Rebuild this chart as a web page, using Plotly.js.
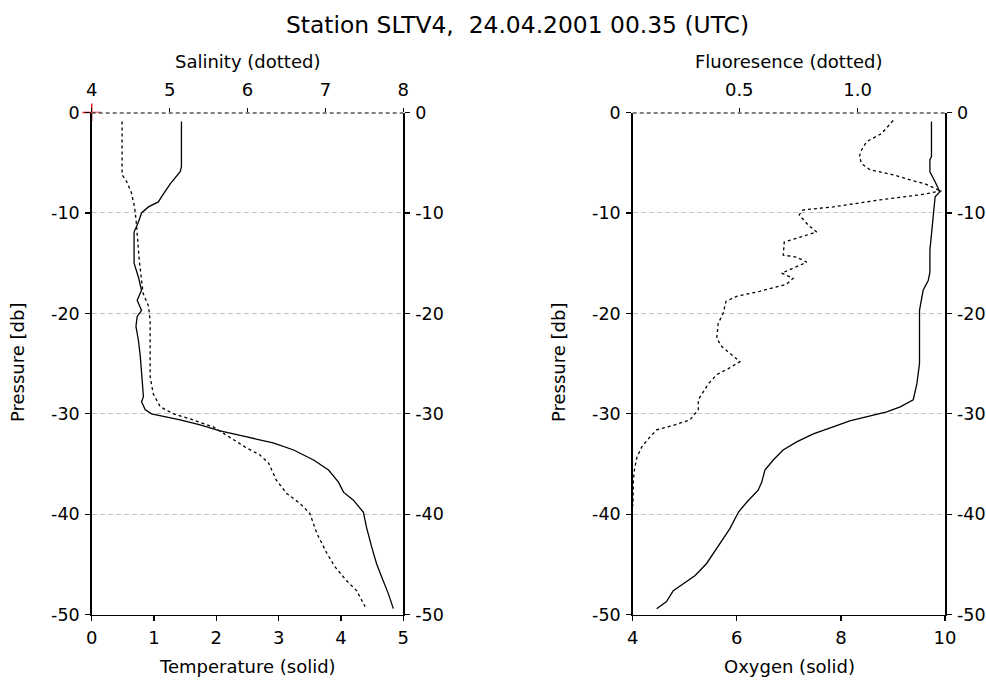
<!DOCTYPE html>
<html>
<head>
<meta charset="utf-8">
<script src="https://cdn.plot.ly/plotly-3.0.1.min.js"></script>
<style>html,body{margin:0;padding:0;background:#fff;}#chart{width:986px;height:682px;}</style>
</head>
<body>
<div id="chart"></div>
<script>
// ---- Left panel: temperature (solid) ----
const tempPressure = [-0.9,-5.4,-5.9,-7.1,-8.4,-8.9,-9.4,-10.0,-10.9,-11.9,-15.0,-16.4,-17.7,-18.7,-19.7,-20.3,-21.3,-22.7,-24.3,-26.0,-28.3,-28.8,-29.6,-30.0,-30.6,-31.1,-31.7,-32.3,-32.9,-33.6,-34.6,-35.6,-36.8,-37.8,-38.6,-39.8,-41.3,-43.2,-44.9,-46.2,-47.9,-49.4];
const temperature = [1.44,1.44,1.42,1.26,1.12,1.07,0.91,0.80,0.75,0.68,0.68,0.75,0.80,0.73,0.80,0.73,0.71,0.75,0.78,0.80,0.83,0.80,0.86,0.96,1.42,1.74,2.06,2.49,2.91,3.24,3.56,3.80,3.96,4.04,4.20,4.36,4.41,4.49,4.57,4.65,4.76,4.84];

// ---- Left panel: salinity (dotted) ----
const salPressure = [-0.9,-6.2,-6.9,-8.0,-9.4,-10.7,-12.7,-14.7,-16.7,-18.0,-19.3,-20.7,-24.3,-26.3,-28.0,-29.3,-30.0,-30.5,-31.3,-32.1,-33.4,-34.1,-34.9,-36.6,-37.9,-38.9,-39.9,-41.9,-43.9,-45.2,-46.6,-47.6,-49.2];
const salinity = [4.39,4.39,4.45,4.51,4.55,4.57,4.59,4.61,4.64,4.66,4.73,4.75,4.75,4.75,4.79,4.88,5.05,5.26,5.56,5.73,5.99,6.16,6.27,6.37,6.50,6.67,6.80,6.89,7.02,7.12,7.27,7.40,7.51];

// ---- Right panel: oxygen (solid) ----
const oxyPressure = [-0.9,-4.4,-4.7,-5.9,-6.9,-7.7,-7.9,-8.4,-10.0,-11.4,-13.7,-15.9,-16.7,-17.7,-18.7,-19.7,-25.0,-27.0,-28.6,-29.3,-29.8,-30.3,-30.7,-31.3,-32.0,-32.8,-33.6,-34.6,-35.6,-36.8,-37.6,-38.8,-39.8,-41.4,-42.6,-43.7,-44.9,-46.1,-46.9,-47.6,-48.7,-49.4];
const oxygen = [9.74,9.74,9.71,9.71,9.81,9.87,9.90,9.81,9.78,9.74,9.71,9.71,9.68,9.58,9.55,9.51,9.51,9.46,9.39,9.14,8.88,8.50,8.17,7.85,7.47,7.15,6.89,6.70,6.54,6.48,6.41,6.19,6.03,5.87,5.71,5.58,5.42,5.20,4.97,4.78,4.65,4.46];

// ---- Right panel: fluorescence (dotted) ----
const fluoPressure = [-0.8,-2.1,-2.9,-3.7,-4.4,-5.1,-5.7,-6.2,-6.7,-7.1,-7.7,-7.8,-8.2,-8.7,-9.4,-9.7,-10.2,-11.2,-11.9,-12.4,-12.9,-14.2,-14.4,-14.9,-15.5,-16.0,-16.5,-17.1,-17.8,-18.3,-18.8,-20.0,-21.0,-22.5,-23.3,-24.2,-24.8,-25.5,-26.1,-27.0,-27.8,-28.6,-29.6,-30.6,-31.2,-31.6,-32.3,-33.3,-34.4,-35.6,-36.6,-38.0,-39.1,-39.5,-45.5,-45.8,-46.1,-50.0];
const fluorescence = [1.150,1.101,1.038,1.017,1.007,1.017,1.052,1.150,1.221,1.284,1.340,1.355,1.263,1.094,0.897,0.770,0.753,0.791,0.827,0.756,0.690,0.686,0.742,0.785,0.728,0.679,0.728,0.700,0.587,0.489,0.444,0.432,0.411,0.405,0.426,0.475,0.503,0.454,0.405,0.370,0.348,0.327,0.327,0.292,0.215,0.151,0.123,0.088,0.067,0.057,0.053,0.052,0.051,0.040,0.040,0.053,0.040,0.040];

// ---- Origin marker ----
const originTemp = [0];
const originPressure = [0];

// ---- Tick labels ----
const pressureTicks = [0,-10,-20,-30,-40,-50];
const pressureTickText = ['0','-10','-20','-30','-40','-50'];
const tempTicks = [0,1,2,3,4,5];
const salTicks = [4,5,6,7,8];
const oxyTicks = [4,6,8,10];
const fluoTicks = [0.5,1.0];
const fluoTickText = ['0.5','1.0'];

const FONT = 'DejaVu Sans, Arial, sans-serif';
const W = 986, H = 682;
const px = v => v / W;
const pyp = v => 1 - v / H;

const leftDom = [px(91.7), px(403.3)];
const rightDom = [px(632.7), px(945)];
const yDom = [pyp(614.7), pyp(112.5)];

const solid = {color: '#000', width: 1.3};
const dotted = {color: '#000', width: 1.3, dash: '3px,3px'};
const hidden = {color: 'rgba(0,0,0,0)', width: 0};

const traces = [
  {x: temperature, y: tempPressure, xaxis: 'x', yaxis: 'y', mode: 'lines', line: solid, name: 'Temperature'},
  {x: salinity, y: salPressure, xaxis: 'x2', yaxis: 'y', mode: 'lines', line: dotted, name: 'Salinity'},
  {x: oxygen, y: oxyPressure, xaxis: 'x3', yaxis: 'y3', mode: 'lines', line: solid, name: 'Oxygen'},
  {x: fluorescence, y: fluoPressure, xaxis: 'x4', yaxis: 'y3', mode: 'lines', line: dotted, name: 'Fluoresence'},
  // carriers so the right-hand pressure axes are drawn
  {x: temperature, y: tempPressure, xaxis: 'x', yaxis: 'y2', mode: 'lines', line: hidden, hoverinfo: 'skip', name: 'axis-r1'},
  {x: oxygen, y: oxyPressure, xaxis: 'x3', yaxis: 'y4', mode: 'lines', line: hidden, hoverinfo: 'skip', name: 'axis-r2'},
  {x: originTemp, y: originPressure, xaxis: 'x', yaxis: 'y', mode: 'markers', cliponaxis: false,
   marker: {symbol: 'cross-thin', size: 13, line: {color: '#e00000', width: 1.3}}, name: 'origin'}
];

const tickFontX = {family: FONT, size: 18, color: '#000'};
const tickFontY = {family: FONT, size: 17.5, color: '#000'};

function xBottom(dom, anchor, range, vals) {
  return {domain: dom, anchor: anchor, range: range, tickvals: vals, ticks: 'outside', ticklen: 5,
    tickwidth: 1.3, tickcolor: '#000', showline: true, linecolor: '#000', linewidth: 1.5,
    showgrid: false, zeroline: false, tickfont: tickFontX, ticklabelstandoff: 1, fixedrange: true};
}
function xTop(over, anchor, range, vals, text) {
  const a = {overlaying: over, side: 'top', anchor: anchor, range: range, tickvals: vals, ticks: 'outside',
    ticklen: 4, tickwidth: 1.3, tickcolor: '#000', showline: false, showgrid: false, zeroline: false,
    tickfont: tickFontX, ticklabelstandoff: 4, fixedrange: true};
  if (text) a.ticktext = text;
  return a;
}
function yLeft(anchor) {
  return {domain: yDom, anchor: anchor, range: [-50, 0], tickvals: pressureTicks, ticktext: pressureTickText,
    ticks: 'outside', ticklen: 5, tickwidth: 1.3, tickcolor: '#000', showline: true, linecolor: '#000',
    linewidth: 1.5, showgrid: true, gridcolor: '#c4c4c4', griddash: '5px,3px', gridwidth: 1,
    zeroline: false, tickfont: tickFontY, ticklabelstandoff: 2, fixedrange: true};
}
function yRight(over, anchor) {
  return {overlaying: over, side: 'right', anchor: anchor, range: [-50, 0], tickvals: pressureTicks,
    ticktext: pressureTickText, ticks: 'outside', ticklen: 5, tickwidth: 1.3, tickcolor: '#000',
    showline: true, linecolor: '#000', linewidth: 1.5, showgrid: false, zeroline: false,
    tickfont: tickFontY, ticklabelstandoff: 2, fixedrange: true};
}

const annFont = {family: FONT, size: 18, color: '#000'};
const ann = (text, x, y, extra) => Object.assign({text: text, x: x, y: y, xref: 'paper', yref: 'paper',
  showarrow: false, xanchor: 'center', yanchor: 'middle', font: annFont}, extra || {});

const topLine = (xd, yr) => [
  {type: 'line', xref: xd, yref: yr, x0: 0, x1: 1, y0: 0, y1: 0, layer: 'above', line: {color: '#fff', width: 3}},
  {type: 'line', xref: xd, yref: yr, x0: 0, x1: 1, y0: 0, y1: 0, layer: 'above', line: {color: '#000', width: 1.8, dash: '4px,3px'}}
];

const layout = {
  width: W, height: H,
  margin: {l: 0, r: 0, t: 0, b: 0},
  paper_bgcolor: '#fff', plot_bgcolor: '#fff',
  showlegend: false,
  font: {family: FONT, color: '#000'},
  title: {text: 'Station SLTV4,  24.04.2001 00.35 (UTC)', x: 517.5 / W, xanchor: 'center',
    y: 1 - 25 / H, yanchor: 'middle', yref: 'container', font: {family: FONT, size: 23.4, color: '#000'}},
  xaxis: xBottom(leftDom, 'y', [0, 5], tempTicks),
  xaxis2: xTop('x', 'y', [4, 8], salTicks),
  yaxis: yLeft('x'),
  yaxis2: yRight('y', 'x'),
  xaxis3: xBottom(rightDom, 'y3', [4, 10], oxyTicks),
  xaxis4: xTop('x3', 'y3', [0.05, 1.369], fluoTicks, fluoTickText),
  yaxis3: yLeft('x3'),
  yaxis4: yRight('y3', 'x3'),
  shapes: topLine('x domain', 'y').concat(topLine('x3 domain', 'y3')),
  annotations: [
    ann('Salinity (dotted)', px(247.5), pyp(61)),
    ann('Temperature (solid)', px(247.5), pyp(666)),
    ann('Fluoresence (dotted)', px(789), pyp(61)),
    ann('Oxygen (solid)', px(789), pyp(666)),
    ann('Pressure [db]', px(17), pyp(363), {textangle: -90}),
    ann('Pressure [db]', px(558), pyp(363), {textangle: -90})
  ]
};

Plotly.newPlot('chart', traces, layout, {staticPlot: true, displayModeBar: false});
</script>
</body>
</html>
